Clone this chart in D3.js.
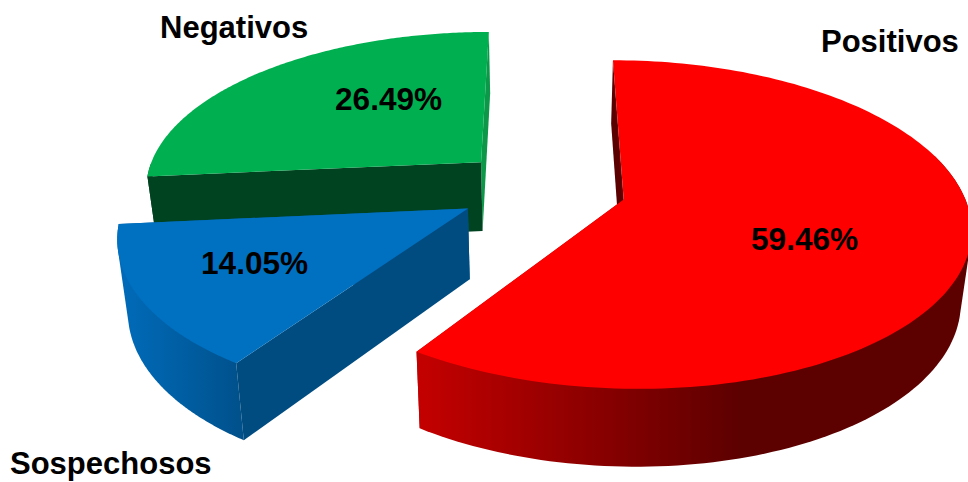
<!DOCTYPE html>
<html>
<head>
<meta charset="utf-8">
<script src="https://cdn.jsdelivr.net/npm/d3@7/dist/d3.min.js"></script>
<style>
  html, body { margin: 0; padding: 0; background: #fff; overflow: hidden; }
  svg { display: block; }
  text { font-family: "Liberation Sans", Arial, sans-serif; font-weight: bold; fill: #000; }
</style>
</head>
<body>
<svg id="chart" width="968" height="482"></svg>
<script>
// Results by category, in clockwise order from twelve o'clock
const categories = ["Positivos", "Sospechosos", "Negativos"];
const percentages = [59.46, 14.05, 26.49];

// Slice colours
const topColors = ["#ff0000", "#0070c0", "#00b050"];
const startFaceColors = ["#5a0000", "#004c80", "#004320"];
const endFaceColors = ["#b00000", "#005f9f", "#0c9848"];
const wallStops = [
  [["0%", "#c40000"], ["50%", "#860000"], ["85%", "#5c0000"], ["100%", "#5c0000"]],
  [["0%", "#006ab8"], ["55%", "#005c9f"], ["100%", "#00508a"]],
  [["0%", "#004320"], ["100%", "#004320"]]
];
const wallSpans = [[418, 800], [125, 245], [150, 480]];

// Text placement: start x and baseline y
const nameSpots = [[821, 52], [10, 474], [160, 38]];
const valueSpots = [[751, 250], [201, 274], [335, 110]];
const nameSize = 31;
const valueSize = 31.6;

// Drawing order, back to front: Negativos, Sospechosos, Positivos
const drawOrder = [2, 1, 0];

// Perspective view of the tilted pie plane
const view = { vx: 542, vy: 188, rx: 338, ry: 157, tilt: 0.15, depth: 70, depthGrow: 0.105, baseShrink: 0.975 };
const explode = 0.25;

const svg = d3.select("#chart");
const defs = svg.append("defs");

function project(X, Y, z) {
  const w = 1 - view.tilt * Y;
  const k = z ? view.baseShrink : 1;
  return [
    view.vx + view.rx * X / w * k,
    view.vy + view.ry * Y / w + z * view.depth * (1 + view.depthGrow * Y)
  ];
}

const slices = d3.pie().sort(null).value(d => d)(percentages);
const line = d3.line();

drawOrder.forEach(i => {
  const s = slices[i];
  const mid = (s.startAngle + s.endAngle) / 2;
  const ox = explode * Math.sin(mid);
  const oy = -explode * Math.cos(mid);
  const rimAt = (a, z) => project(ox + Math.sin(a), oy - Math.cos(a), z);
  const apex = z => project(ox, oy, z);
  const cutFace = a => line([rimAt(a, 0), apex(0), apex(1), rimAt(a, 1)]) + "Z";

  const angles = d3.range(0, 161).map(j => s.startAngle + (s.endAngle - s.startAngle) * j / 160);
  const topRim = angles.map(a => rimAt(a, 0));

  // The curved wall only shows on the side turned towards the viewer;
  // its outline is the convex silhouette of both rims
  const wallAngles = angles.filter(a => a > Math.PI / 2 - 0.3 && a < 3 * Math.PI / 2);
  const wallHull = d3.polygonHull(wallAngles.map(a => rimAt(a, 0)).concat(wallAngles.map(a => rimAt(a, 1))));

  const gradId = "wall" + i;
  const grad = defs.append("linearGradient").attr("id", gradId)
    .attr("gradientUnits", "userSpaceOnUse")
    .attr("x1", wallSpans[i][0]).attr("x2", wallSpans[i][1]).attr("y1", 0).attr("y2", 0);
  wallStops[i].forEach(st => grad.append("stop").attr("offset", st[0]).attr("stop-color", st[1]));

  const g = svg.append("g").attr("class", "slice");
  g.append("path").attr("d", cutFace(s.endAngle)).attr("fill", endFaceColors[i]);
  g.append("path").attr("d", line(wallHull) + "Z").attr("fill", "url(#" + gradId + ")");
  g.append("path").attr("d", cutFace(s.startAngle)).attr("fill", startFaceColors[i]);
  g.append("path").attr("d", line([apex(0)].concat(topRim)) + "Z").attr("fill", topColors[i]);
});

// Category names and percentage labels
svg.append("g").selectAll("text").data(categories).join("text")
  .attr("x", (d, i) => nameSpots[i][0])
  .attr("y", (d, i) => nameSpots[i][1])
  .attr("font-size", nameSize)
  .text(d => d);

svg.append("g").selectAll("text").data(percentages).join("text")
  .attr("x", (d, i) => valueSpots[i][0])
  .attr("y", (d, i) => valueSpots[i][1])
  .attr("font-size", valueSize)
  .text(d => d3.format(".2f")(d) + "%");
</script>
</body>
</html>
